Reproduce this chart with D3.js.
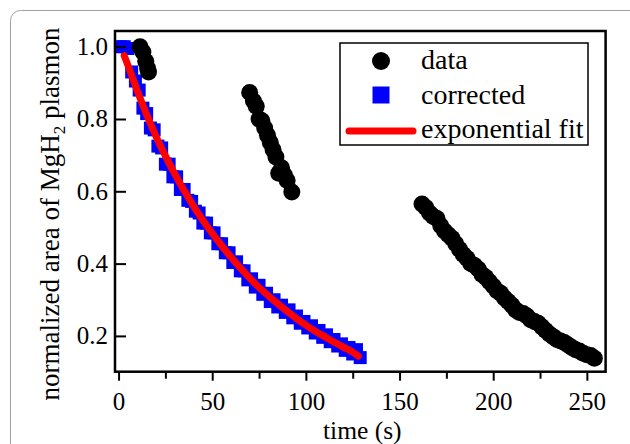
<!DOCTYPE html>
<html>
<head>
<meta charset="utf-8">
<script src="https://cdn.jsdelivr.net/npm/d3@7"></script>
<style>
  html, body { margin: 0; padding: 0; background: #fff; }
  svg { display: block; }
  svg text { font-family: "Liberation Serif", "Tinos", "Times New Roman", "DejaVu Serif", serif !important; fill: #000; }
</style>
</head>
<body>
<svg id="chart" width="630" height="444"></svg>
<script>
// ---------- data ----------
const dataT = [11.5, 13, 14.5, 15.5, 16,
  70, 72, 73.5, 75, 76.5, 78, 79.5, 81, 82.5, 84, 85.5, 87, 88.5, 90, 92.5,
  162, 164, 166, 168, 170, 172, 174, 176, 178, 180, 182, 184, 186, 188, 190, 192, 194, 196, 198, 200,
  202, 204, 206, 208, 210, 212, 214, 216, 218, 220, 222, 224, 226, 228, 230, 232, 234, 236, 238, 240,
  242, 244, 246, 248, 250, 252, 254];
const dataY = [1.000, 0.985, 0.960, 0.940, 0.930,
  0.873, 0.850, 0.835, 0.800, 0.795, 0.775, 0.755, 0.735, 0.715, 0.695, 0.650, 0.665, 0.645, 0.630, 0.598,
  0.565, 0.555, 0.540, 0.530, 0.525, 0.505, 0.490, 0.480, 0.470, 0.455, 0.440, 0.425, 0.415, 0.400, 0.395, 0.385, 0.370, 0.362, 0.350, 0.338,
  0.325, 0.318, 0.305, 0.295, 0.285, 0.272, 0.265, 0.262, 0.255, 0.245, 0.240, 0.235, 0.225, 0.215, 0.205, 0.198, 0.190, 0.186, 0.182, 0.175,
  0.168, 0.162, 0.158, 0.152, 0.148, 0.146, 0.138];

const correctedT = [1, 3, 5, 7, 9, 11, 13, 15, 17, 19, 21, 23, 25, 27, 29, 31, 33, 35, 37, 39,
  41, 43, 45, 47, 49, 51, 53, 55, 57, 59, 61, 63, 65, 67, 69, 71, 73, 75, 77, 79,
  81, 83, 85, 87, 89, 91, 93, 95, 97, 99, 101, 103, 105, 107, 109, 111, 113, 115, 117, 119,
  121, 123, 125, 127, 129];
const correctedY = [1.000, 1.000, 0.995, 0.930, 0.905, 0.880, 0.830, 0.815, 0.775, 0.770,
  0.725, 0.720, 0.675, 0.675, 0.640, 0.640, 0.605, 0.605, 0.575, 0.572,
  0.545, 0.540, 0.512, 0.512, 0.485, 0.485, 0.455, 0.455, 0.430, 0.430,
  0.403, 0.405, 0.380, 0.380, 0.355, 0.358, 0.335, 0.340, 0.315, 0.318,
  0.295, 0.300, 0.280, 0.285, 0.265, 0.272, 0.250, 0.255, 0.235, 0.240,
  0.222, 0.228, 0.208, 0.215, 0.196, 0.203, 0.184, 0.190, 0.172, 0.178,
  0.160, 0.168, 0.150, 0.162, 0.140];

const fitT = [3, 6, 10, 15, 20, 25, 30, 35, 40, 45, 50, 55, 60, 65, 70, 75, 80, 85, 90, 95, 100, 105, 110, 115, 120, 125, 128];
const fitY = [0.975, 0.935, 0.878, 0.812, 0.752, 0.698, 0.648, 0.602, 0.559, 0.520, 0.484, 0.450, 0.418, 0.388, 0.360, 0.334,
  0.311, 0.289, 0.268, 0.248, 0.230, 0.213, 0.198, 0.183, 0.169, 0.155, 0.144];

const xTicks = [0, 50, 100, 150, 200, 250];
const xMinorTicks = [25, 75, 125, 175, 225];
const yTicks = [0.2, 0.4, 0.6, 0.8, 1.0];
const legendLabels = ["data", "corrected", "exponential fit"];

// ---------- layout ----------
const FONT = '"Liberation Serif", "Tinos", "Times New Roman", "DejaVu Serif", serif';
const svg = d3.select("#chart");
const L = 115, R = 605.6, T = 31, B = 371.7;

const x = d3.scaleLinear().domain([-1.9, 260]).range([L, R]);
const y = d3.scaleLinear().domain([0.101, 1.0434]).range([B, T]);

// outer rounded border
svg.append("rect")
  .attr("x", 10.5).attr("y", 10.5).attr("width", 640).attr("height", 460)
  .attr("rx", 10).attr("fill", "none").attr("stroke", "#a0a0a0").attr("stroke-width", 1);

// corrected squares
const sq = 13;
svg.append("g").selectAll("rect")
  .data(correctedT.map((t, i) => [t, correctedY[i]]))
  .join("rect")
  .attr("x", d => x(d[0]) - sq / 2)
  .attr("y", d => y(d[1]) - sq / 2)
  .attr("width", sq).attr("height", sq)
  .attr("fill", "#0000ff");

// fit line
svg.append("path")
  .datum(fitT.map((t, i) => [t, fitY[i]]))
  .attr("fill", "none").attr("stroke", "#ff0000").attr("stroke-width", 7)
  .attr("stroke-linecap", "round").attr("stroke-linejoin", "round")
  .attr("d", d3.line().x(d => x(d[0])).y(d => y(d[1])).curve(d3.curveMonotoneX));

// data circles
svg.append("g").selectAll("circle")
  .data(dataT.map((t, i) => [t, dataY[i]]))
  .join("circle")
  .attr("cx", d => x(d[0])).attr("cy", d => y(d[1])).attr("r", 8.5)
  .attr("fill", "#000");

// x axis
const xAxis = svg.append("g").attr("transform", `translate(0,${B})`)
  .call(d3.axisBottom(x).tickValues(xTicks).tickSize(9).tickPadding(12).tickFormat(d3.format("d")));
xAxis.attr("font-family", FONT);
xAxis.select(".domain").remove();
xAxis.selectAll(".tick line").attr("stroke", "#000").attr("stroke-width", 2);
xAxis.selectAll(".tick text").attr("font-size", 25).attr("font-family", FONT);

const xMinor = svg.append("g").attr("transform", `translate(0,${B})`)
  .call(d3.axisBottom(x).tickValues(xMinorTicks).tickSize(7).tickFormat(""));
xMinor.select(".domain").remove();
xMinor.selectAll(".tick line").attr("stroke", "#000").attr("stroke-width", 2);

// y axis (ticks point inward)
const yAxis = svg.append("g").attr("transform", `translate(${L},0)`)
  .call(d3.axisLeft(y).tickValues(yTicks).tickSize(-11).tickPadding(7).tickFormat(d3.format(".1f")));
yAxis.attr("font-family", FONT);
yAxis.select(".domain").remove();
yAxis.selectAll(".tick line").attr("stroke", "#000").attr("stroke-width", 2);
yAxis.selectAll(".tick text").attr("font-size", 25).attr("font-family", FONT)
  .attr("x", -7);

// frame
svg.append("rect")
  .attr("x", L).attr("y", T).attr("width", R - L).attr("height", B - T)
  .attr("fill", "none").attr("stroke", "#000").attr("stroke-width", 2.5);

// axis titles
svg.append("text")
  .attr("x", (L + R) / 2 + 2).attr("y", 438.5)
  .attr("text-anchor", "middle").attr("font-size", 25.5).attr("font-family", FONT)
  .text("time (s)");

const yt = svg.append("text")
  .attr("transform", "translate(58.5,214) rotate(-90)")
  .attr("text-anchor", "middle").attr("font-size", 27).attr("font-family", FONT);
yt.append("tspan").text("normalized area of MgH");
yt.append("tspan").attr("font-size", 17).attr("dy", 6).text("2");
yt.append("tspan").attr("dy", -6).text(" plasmon");

// legend
const lg = svg.append("g");
lg.append("rect")
  .attr("x", 340).attr("y", 43).attr("width", 248).attr("height", 102)
  .attr("fill", "#fff").attr("stroke", "#000").attr("stroke-width", 1.5);
lg.append("circle").attr("cx", 381).attr("cy", 61).attr("r", 9).attr("fill", "#000");
lg.append("rect").attr("x", 372.5).attr("y", 86.5).attr("width", 17).attr("height", 17).attr("fill", "#0000ff");
lg.append("line").attr("x1", 349).attr("x2", 413).attr("y1", 131).attr("y2", 131)
  .attr("stroke", "#ff0000").attr("stroke-width", 7).attr("stroke-linecap", "round");
const lgBase = [69, 104, 138];
lg.selectAll("text.lab").data(legendLabels).join("text")
  .attr("class", "lab")
  .attr("x", 421).attr("y", (d, i) => lgBase[i])
  .attr("font-size", 28).attr("font-family", FONT)
  .text(d => d);
</script>
</body>
</html>
